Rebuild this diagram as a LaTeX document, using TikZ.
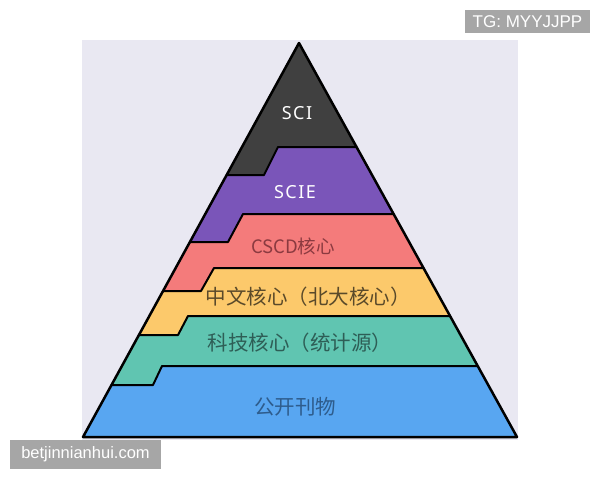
\documentclass[tikz,border=0pt]{standalone}
\usepackage{fontspec}
\setmainfont{Noto Sans CJK SC}
\newfontfamily\wmfont{Liberation Sans}
\newfontfamily\latfont[LetterSpace=8]{Noto Sans}
\usetikzlibrary{calc}
\definecolor{PyrBg}{HTML}{E9E8F2}
\definecolor{PyrSCI}{HTML}{404040}
\definecolor{PyrSCIE}{HTML}{7A55B9}
\definecolor{PyrCSCD}{HTML}{F47B7B}
\definecolor{PyrPKU}{HTML}{FCC96B}
\definecolor{PyrSTP}{HTML}{60C5B1}
\definecolor{PyrPub}{HTML}{58A6F1}
\definecolor{TxtCSCD}{HTML}{8B3A40}
\definecolor{TxtPKU}{HTML}{5A4A2A}
\definecolor{TxtSTP}{HTML}{2E5E56}
\definecolor{TxtPub}{HTML}{2E5C8C}
\definecolor{WMGray}{HTML}{A6A6A6}
\tikzset{
  lyr/.style={draw=black,line width=2pt,line join=round},
  lbl/.style={font=\fontsize{20.5}{24}\selectfont,inner sep=0pt},
  eng/.style={font=\latfont\fontsize{18}{22}\selectfont,text=white,inner sep=0pt},
  wm/.style={fill=WMGray,text=white,font=\wmfont\fontsize{16.5}{20}\selectfont,inner sep=0pt,minimum height=23pt},
}
\begin{document}
\begin{tikzpicture}[x=1pt,y=-1pt]
    \useasboundingbox (0,0) rectangle (600,480);
    \fill[white] (0,0) rectangle (600,480);
    \fill[PyrBg] (82,40) rectangle (518,440);
    \coordinate (apex) at (299,43);
    \coordinate (bl) at (83,437);
    \coordinate (br) at (517,437);
    % layers, bottom to top
    \begin{scope}
      \clip (apex) -- (br) -- (bl) -- cycle;
      \fill[PyrPub] (0,0) rectangle (600,480);
      \fill[PyrSTP] (0,385) -- (153,385) -- (162,366) -- (600,366) -- (600,0) -- (0,0) -- cycle;
      \fill[PyrPKU] (0,335) -- (178,335) -- (188,316) -- (600,316) -- (600,0) -- (0,0) -- cycle;
      \fill[PyrCSCD] (0,291) -- (201,291) -- (214,268) -- (600,268) -- (600,0) -- (0,0) -- cycle;
      \fill[PyrSCIE] (0,242) -- (228,242) -- (243,214) -- (600,214) -- (600,0) -- (0,0) -- cycle;
      \fill[PyrSCI] (0,175) -- (264,175) -- (278,147) -- (600,147) -- (600,0) -- (0,0) -- cycle;
      \draw[lyr] (0,385) -- (153,385) -- (162,366) -- (600,366);
      \draw[lyr] (0,335) -- (178,335) -- (188,316) -- (600,316);
      \draw[lyr] (0,291) -- (201,291) -- (214,268) -- (600,268);
      \draw[lyr] (0,242) -- (228,242) -- (243,214) -- (600,214);
      \draw[lyr] (0,175) -- (264,175) -- (278,147) -- (600,147);
    \end{scope}
    \draw[lyr,line width=2.5pt] (apex) -- (br) -- (bl) -- cycle;
    % labels
    \node[eng] (sci) at (297,113) {SCI};
    \node[eng] (scie) at (295,192) {SCIE};
    \node[lbl,text=TxtCSCD,font=\fontsize{18.5}{22}\selectfont] (cscd) at (293,246) {CSCD核心};
    \node[lbl,text=TxtPKU] (pku) at (308,297) {中文核心（北大核心）};
    \node[lbl,text=TxtSTP] (stp) at (300,343) {科技核心（统计源）};
    \node[lbl,text=TxtPub] (pub) at (295,407) {公开刊物};
    % watermarks
    \node[wm,minimum width=125pt,font=\wmfont\fontsize{17}{20}\selectfont] (tg) at (527.5,21.5) {TG: MYYJJPP};
    \node[wm,minimum width=151pt,minimum height=29pt] (site) at (85.5,454.5) {betjinnianhui.com};
  \end{tikzpicture}
\end{document}
